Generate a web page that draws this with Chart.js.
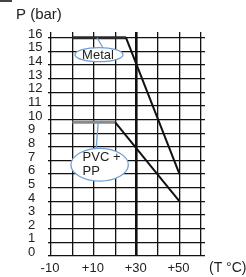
<!DOCTYPE html>
<html>
<head>
<meta charset="utf-8">
<script src="https://cdn.jsdelivr.net/npm/chart.js@4"></script>
<style>
  body { margin: 0; background: #fff; }
  #wrap { position: relative; width: 246px; height: 277px; }
  #corner { position: absolute; left: 0; top: 0; width: 12px; height: 2px; background: #444; }
</style>
</head>
<body>
<div id="wrap">
  <div id="corner"></div>
  <canvas id="chart" width="246" height="277"></canvas>
</div>
<script>
// data
const metalT = [0, 25, 50];
const metalP = [16, 16, 6];
const pvcT = [0, 20, 50];
const pvcP = [9.8, 9.8, 4];

const yTicks = [0, 1, 2, 3, 4, 5, 6, 7, 8, 9, 10, 11, 12, 13, 14, 15, 16];
const xTicks = [-10, 0, 10, 20, 30, 40, 50, 60];
const xLabels = ['-10', '', '+10', '', '+30', '', '+50', ''];

const yTitle = 'P (bar)';
const xTitle = '(T °C)';

// callout bubbles, in data units
const callouts = [
  { text: ['Metal'], cx: 12.4, cy: 14.76, rx: 24, ry: 7, from: [11.5, 16], to: [14.3, 15.25] },
  { text: ['PVC +', 'PP'], cx: 12.7, cy: 6.69, rx: 28.7, ry: 16.3, from: [12.1, 9.9], to: [11.1, 7.9], left: true }
];

const FONT = '"Liberation Sans", Arial, sans-serif';

const calloutPlugin = {
  id: 'callouts',
  afterDatasetsDraw(chart) {
    const ctx = chart.ctx;
    const xs = chart.scales.x, ys = chart.scales.y;
    ctx.save();
    callouts.forEach(c => {
      const cx = xs.getPixelForValue(c.cx), cy = ys.getPixelForValue(c.cy);
      ctx.strokeStyle = '#6f9fd3';
      ctx.lineWidth = 1.3;
      ctx.beginPath();
      ctx.moveTo(xs.getPixelForValue(c.from[0]), ys.getPixelForValue(c.from[1]));
      ctx.lineTo(xs.getPixelForValue(c.to[0]), ys.getPixelForValue(c.to[1]));
      ctx.stroke();
      ctx.beginPath();
      ctx.ellipse(cx, cy, c.rx, c.ry, 0, 0, Math.PI * 2);
      ctx.fillStyle = '#fff';
      ctx.fill();
      ctx.stroke();
      ctx.fillStyle = '#222';
      ctx.font = '13px ' + FONT;
      ctx.textBaseline = 'middle';
      if (c.left) {
        ctx.textAlign = 'left';
        c.text.forEach((t, i) => ctx.fillText(t, cx - 17, cy - 7 + i * 14));
      } else {
        ctx.textAlign = 'center';
        c.text.forEach((t, i) => ctx.fillText(t, cx - 1, cy + 1 + i * 14));
      }
    });
    // axis titles
    const a = chart.chartArea;
    ctx.fillStyle = '#222';
    ctx.textAlign = 'left';
    ctx.textBaseline = 'middle';
    ctx.font = '15px ' + FONT;
    ctx.fillText(yTitle, a.left - 35, a.top - 17);
    ctx.font = '14px ' + FONT;
    ctx.fillText(xTitle, a.right + 4, a.bottom + 12);
    ctx.restore();
  }
};

new Chart(document.getElementById('chart'), {
  type: 'line',
  data: {
    datasets: [
      {
        label: 'Metal',
        data: metalT.map((t, i) => ({ x: t, y: metalP[i] })),
        borderColor: '#111',
        borderWidth: 2,
        pointRadius: 0,
        segment: {
          borderColor: s => s.p0.parsed.y === s.p1.parsed.y ? '#2a2a2a' : '#111',
          borderWidth: s => s.p0.parsed.y === s.p1.parsed.y ? 3 : 2
        }
      },
      {
        label: 'PVC + PP',
        data: pvcT.map((t, i) => ({ x: t, y: pvcP[i] })),
        borderColor: '#111',
        borderWidth: 2,
        pointRadius: 0,
        segment: {
          borderColor: s => s.p0.parsed.y === s.p1.parsed.y ? '#8a8a8a' : '#111',
          borderWidth: s => s.p0.parsed.y === s.p1.parsed.y ? 3 : 2
        }
      }
    ]
  },
  options: {
    responsive: false,
    devicePixelRatio: 1,
    animation: false,
    layout: { padding: { left: 28, top: 32, right: 41, bottom: 0 } },
    plugins: {
      legend: { display: false },
      tooltip: { enabled: false }
    },
    scales: {
      x: {
        type: 'linear',
        min: -10,
        max: 61.9,
        afterBuildTicks: scale => { scale.ticks = xTicks.map(v => ({ value: v })); },
        afterFit: scale => { scale.height = 21; },
        border: { display: false },
        grid: {
          color: '#111',
          lineWidth: c => (c.tick && c.tick.value === 30) ? 2.6 : 1.3,
          drawTicks: false
        },
        ticks: {
          autoSkip: false,
          maxRotation: 0,
          padding: 5,
          labelOffset: -1,
          color: '#222',
          font: { family: FONT, size: 13 },
          callback: (v) => xLabels[xTicks.indexOf(v)]
        }
      },
      y: {
        min: 0,
        max: 16.42,
        afterBuildTicks: scale => { scale.ticks = yTicks.map(v => ({ value: v })); },
        afterFit: scale => { scale.width = 23; },
        border: { display: false },
        grid: {
          color: '#111',
          lineWidth: 1.3,
          tickLength: 3
        },
        ticks: {
          autoSkip: false,
          crossAlign: 'far',
          labelOffset: -3.5,
          color: '#222',
          font: { family: FONT, size: 13 }
        }
      }
    }
  },
  plugins: [calloutPlugin]
});
</script>
</body>
</html>
